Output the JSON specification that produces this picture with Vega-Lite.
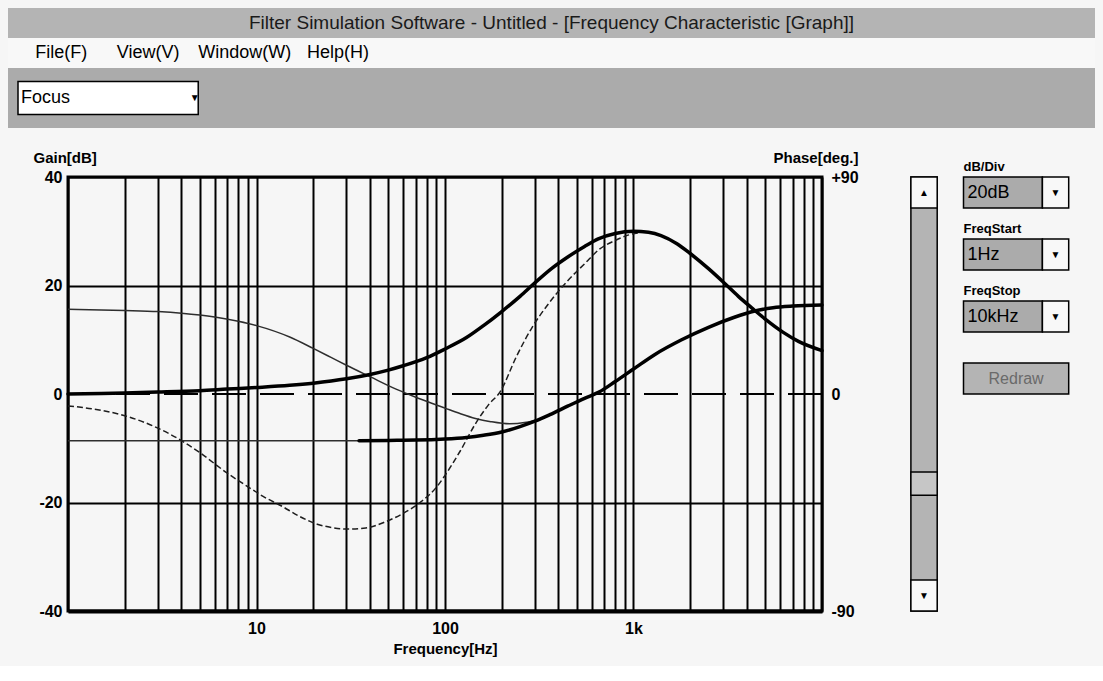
{
  "$schema": "https://vega.github.io/schema/vega-lite/v6.json",
  "background": "#f6f6f6",
  "padding": {"left": 8, "top": 8, "right": 8, "bottom": 8},
  "config": {
    "view": {"stroke": null},
    "font": "Liberation Sans, Arial, sans-serif",
    "axis": {
      "labelFont": "Liberation Sans, Arial, sans-serif",
      "titleFont": "Liberation Sans, Arial, sans-serif",
      "labelFontWeight": "bold",
      "titleFontWeight": "bold",
      "labelColor": "#000",
      "titleColor": "#000",
      "labelFontSize": 16,
      "titleFontSize": 15
    }
  },
  "datasets": {
    "curves": [
      {"s": "A", "f": 1, "g": 0}, {"s": "A", "f": 1.5, "g": 0.1}, {"s": "A", "f": 2, "g": 0.2}, {"s": "A", "f": 3, "g": 0.35},
      {"s": "A", "f": 5, "g": 0.6}, {"s": "A", "f": 7, "g": 0.9}, {"s": "A", "f": 10, "g": 1.2}, {"s": "A", "f": 15, "g": 1.6},
      {"s": "A", "f": 20, "g": 2.0}, {"s": "A", "f": 30, "g": 2.8}, {"s": "A", "f": 40, "g": 3.6}, {"s": "A", "f": 50, "g": 4.4},
      {"s": "A", "f": 60, "g": 5.2}, {"s": "A", "f": 80, "g": 6.7}, {"s": "A", "f": 100, "g": 8.3}, {"s": "A", "f": 130, "g": 10.4},
      {"s": "A", "f": 160, "g": 12.6}, {"s": "A", "f": 200, "g": 15.2}, {"s": "A", "f": 250, "g": 18.0}, {"s": "A", "f": 300, "g": 20.5},
      {"s": "A", "f": 370, "g": 23.2}, {"s": "A", "f": 450, "g": 25.3}, {"s": "A", "f": 550, "g": 27.2}, {"s": "A", "f": 650, "g": 28.6},
      {"s": "A", "f": 800, "g": 29.6}, {"s": "A", "f": 1000, "g": 30.0}, {"s": "A", "f": 1200, "g": 29.8}, {"s": "A", "f": 1400, "g": 29.2},
      {"s": "A", "f": 1700, "g": 27.7}, {"s": "A", "f": 2000, "g": 25.9}, {"s": "A", "f": 2500, "g": 23.1}, {"s": "A", "f": 3000, "g": 20.6},
      {"s": "A", "f": 3600, "g": 18.0}, {"s": "A", "f": 4300, "g": 15.7}, {"s": "A", "f": 5000, "g": 13.8}, {"s": "A", "f": 6200, "g": 11.4},
      {"s": "A", "f": 7500, "g": 9.7}, {"s": "A", "f": 10000, "g": 8.0},

      {"s": "B", "f": 1, "g": 15.6}, {"s": "B", "f": 2, "g": 15.4}, {"s": "B", "f": 3, "g": 15.2}, {"s": "B", "f": 4, "g": 14.9},
      {"s": "B", "f": 6, "g": 14.2}, {"s": "B", "f": 8, "g": 13.4}, {"s": "B", "f": 10, "g": 12.6}, {"s": "B", "f": 15, "g": 10.5},
      {"s": "B", "f": 20, "g": 8.4}, {"s": "B", "f": 25, "g": 6.7}, {"s": "B", "f": 30, "g": 5.3}, {"s": "B", "f": 40, "g": 3.2},
      {"s": "B", "f": 55, "g": 0.9}, {"s": "B", "f": 70, "g": -0.6}, {"s": "B", "f": 85, "g": -1.7}, {"s": "B", "f": 100, "g": -2.6},
      {"s": "B", "f": 120, "g": -3.6}, {"s": "B", "f": 145, "g": -4.5}, {"s": "B", "f": 175, "g": -5.1}, {"s": "B", "f": 220, "g": -5.5},
      {"s": "B", "f": 270, "g": -5.2}, {"s": "B", "f": 320, "g": -4.6}, {"s": "B", "f": 360, "g": -3.8},

      {"s": "C0", "f": 1, "g": -8.6}, {"s": "C0", "f": 35, "g": -8.6},

      {"s": "C", "f": 35, "g": -8.6}, {"s": "C", "f": 50, "g": -8.55}, {"s": "C", "f": 70, "g": -8.5}, {"s": "C", "f": 100, "g": -8.3},
      {"s": "C", "f": 130, "g": -8.0}, {"s": "C", "f": 160, "g": -7.6}, {"s": "C", "f": 200, "g": -7.0}, {"s": "C", "f": 250, "g": -6.0},
      {"s": "C", "f": 300, "g": -5.0}, {"s": "C", "f": 360, "g": -3.8}, {"s": "C", "f": 450, "g": -2.2}, {"s": "C", "f": 550, "g": -0.8},
      {"s": "C", "f": 660, "g": 0.4}, {"s": "C", "f": 800, "g": 2.3}, {"s": "C", "f": 1000, "g": 4.6}, {"s": "C", "f": 1300, "g": 7.3},
      {"s": "C", "f": 1800, "g": 10.0}, {"s": "C", "f": 2500, "g": 12.3}, {"s": "C", "f": 3400, "g": 14.1}, {"s": "C", "f": 4400, "g": 15.3},
      {"s": "C", "f": 5500, "g": 15.9}, {"s": "C", "f": 7000, "g": 16.2}, {"s": "C", "f": 10000, "g": 16.4},

      {"s": "D", "f": 1, "g": -2.2}, {"s": "D", "f": 1.5, "g": -3.0}, {"s": "D", "f": 2, "g": -4.0}, {"s": "D", "f": 3, "g": -6.3},
      {"s": "D", "f": 4, "g": -8.6}, {"s": "D", "f": 5, "g": -10.8}, {"s": "D", "f": 7, "g": -14.6}, {"s": "D", "f": 9, "g": -17.1},
      {"s": "D", "f": 11, "g": -19.0}, {"s": "D", "f": 13.5, "g": -20.6}, {"s": "D", "f": 17, "g": -22.6}, {"s": "D", "f": 21, "g": -24.0},
      {"s": "D", "f": 25, "g": -24.6}, {"s": "D", "f": 30, "g": -24.9}, {"s": "D", "f": 38, "g": -24.7}, {"s": "D", "f": 48, "g": -23.6},
      {"s": "D", "f": 60, "g": -22.0}, {"s": "D", "f": 75, "g": -19.8}, {"s": "D", "f": 90, "g": -17.2}, {"s": "D", "f": 100, "g": -15.0},
      {"s": "D", "f": 120, "g": -10.6}, {"s": "D", "f": 145, "g": -5.5}, {"s": "D", "f": 170, "g": -2.0}, {"s": "D", "f": 196, "g": 0.4},
      {"s": "D", "f": 240, "g": 7.0}, {"s": "D", "f": 290, "g": 12.3}, {"s": "D", "f": 350, "g": 16.4}, {"s": "D", "f": 440, "g": 20.6},
      {"s": "D", "f": 550, "g": 24.0}, {"s": "D", "f": 660, "g": 26.7}, {"s": "D", "f": 800, "g": 28.3}, {"s": "D", "f": 920, "g": 29.2},
      {"s": "D", "f": 1100, "g": 29.8}
    ],
    "side": [
      {"kind": "rect", "part": "track", "col": "c3", "col2": "c3", "row": "s0", "row2": "s13"},
      {"kind": "rect", "part": "btn", "col": "c3", "col2": "c3", "row": "s0", "row2": "s0"},
      {"kind": "rect", "part": "btn", "col": "c3", "col2": "c3", "row": "s13", "row2": "s13"},
      {"kind": "thumb", "part": "thumb", "col": "c3", "col2": "c3", "row": "s9", "row2": "s9"},
      {"kind": "rect", "part": "box", "col": "c5", "col2": "c7", "row": "s0", "row2": "s0"},
      {"kind": "rect", "part": "btn", "col": "c8", "col2": "c8", "row": "s0", "row2": "s0"},
      {"kind": "rect", "part": "box", "col": "c5", "col2": "c7", "row": "s2", "row2": "s2"},
      {"kind": "rect", "part": "btn", "col": "c8", "col2": "c8", "row": "s2", "row2": "s2"},
      {"kind": "rect", "part": "box", "col": "c5", "col2": "c7", "row": "s4", "row2": "s4"},
      {"kind": "rect", "part": "btn", "col": "c8", "col2": "c8", "row": "s4", "row2": "s4"},
      {"kind": "rect", "part": "button", "col": "c5", "col2": "c8", "row": "s6", "row2": "s6"},
      {"kind": "value", "text": "20dB", "col": "c5", "row": "s0"},
      {"kind": "value", "text": "1Hz", "col": "c5", "row": "s2"},
      {"kind": "value", "text": "10kHz", "col": "c5", "row": "s4"},
      {"kind": "label", "text": "dB/Div", "col": "c5", "row": "s0"},
      {"kind": "label", "text": "FreqStart", "col": "c5", "row": "s2"},
      {"kind": "label", "text": "FreqStop", "col": "c5", "row": "s4"},
      {"kind": "glyph", "text": "▲", "col": "c3", "row": "s0"},
      {"kind": "glyph", "text": "▼", "col": "c3", "row": "s13"},
      {"kind": "glyph", "text": "▼", "col": "c8", "row": "s0"},
      {"kind": "glyph", "text": "▼", "col": "c8", "row": "s2"},
      {"kind": "glyph", "text": "▼", "col": "c8", "row": "s4"},
      {"kind": "redraw", "text": "Redraw", "col": "c7", "row": "s6"}
    ],
    "chrome": [
      {"kind": "bar", "band": "title"},
      {"kind": "bar", "band": "menu"},
      {"kind": "bar", "band": "tool1"},
      {"kind": "bar", "band": "tool2"},
      {"kind": "titletext", "band": "title", "text": "Filter Simulation Software - Untitled - [Frequency Characteristic [Graph]]"},
      {"kind": "menutext", "band": "menu", "col": "k1", "text": "File(F)"},
      {"kind": "menutext", "band": "menu", "col": "k4", "text": "View(V)"},
      {"kind": "menutext", "band": "menu", "col": "k7", "text": "Window(W)"},
      {"kind": "menutext", "band": "menu", "col": "k11", "text": "Help(H)"},
      {"kind": "combo", "band": "tool1", "col": "k0", "col2": "k6"},
      {"kind": "combotext", "band": "tool1", "col": "k0", "text": "Focus"},
      {"kind": "comboglyph", "band": "tool1", "col": "k6", "text": "▼"}
    ]
  },
  "spacing": 49,
  "bounds": "flush",
  "vconcat": [
    {
      "width": 1087,
      "height": 120,
      "data": {"name": "chrome"},
      "layer": [
        {
          "transform": [{"filter": "datum.kind === 'bar'"}],
          "mark": {"type": "rect"},
          "encoding": {
            "y": {"field": "band", "type": "nominal", "scale": {"domain": ["title", "menu", "tool1", "tool2"], "paddingInner": 0, "paddingOuter": 0}, "axis": null},
            "x": {"value": 0},
            "x2": {"value": "width"},
            "fill": {"field": "band", "type": "nominal", "scale": {"domain": ["title", "menu", "tool1", "tool2"], "range": ["#b4b4b4", "#f8f8f8", "#ababab", "#ababab"]}, "legend": null}
          }
        },
        {
          "transform": [{"filter": "datum.kind === 'titletext'"}],
          "mark": {"type": "text", "fontSize": 19, "color": "#1a1a1a", "baseline": "middle"},
          "encoding": {
            "y": {"field": "band", "type": "nominal", "bandPosition": 0.5},
            "text": {"field": "text"}
          }
        },
        {
          "transform": [{"filter": "datum.kind === 'menutext'"}],
          "mark": {"type": "text", "fontSize": 18, "align": "left", "baseline": "middle", "color": "#000"},
          "encoding": {
            "x": {"field": "col", "type": "nominal", "bandPosition": 0, "scale": {"domain": ["k0", "k1", "k2", "k3", "k4", "k5", "k6", "k7", "k8", "k9", "k10", "k11", "k12", "k13", "k14", "k15", "k16", "k17", "k18", "k19", "k20", "k21", "k22", "k23", "k24", "k25", "k26", "k27", "k28", "k29", "k30", "k31", "k32", "k33", "k34", "k35", "k36", "k37", "k38", "k39"], "paddingInner": 0, "paddingOuter": 0}, "axis": null},
            "y": {"field": "band", "type": "nominal", "bandPosition": 0.5},
            "text": {"field": "text"}
          }
        },
        {
          "transform": [{"filter": "datum.kind === 'combo'"}],
          "mark": {"type": "rect", "fill": "#ffffff", "stroke": "#000", "strokeWidth": 1.5, "xOffset": 10},
          "encoding": {
            "x": {"field": "col", "type": "nominal", "bandPosition": 0},
            "x2": {"field": "col2", "bandPosition": 1},
            "y": {"field": "band", "type": "nominal", "bandPosition": 0.45},
            "y2": {"field": "band", "bandPosition": 1.55}
          }
        },
        {
          "transform": [{"filter": "datum.kind === 'combotext'"}],
          "mark": {"type": "text", "fontSize": 18, "align": "left", "baseline": "middle", "color": "#000", "dx": 13},
          "encoding": {
            "x": {"field": "col", "type": "nominal", "bandPosition": 0},
            "y": {"field": "band", "type": "nominal", "bandPosition": 1},
            "text": {"field": "text"}
          }
        },
        {
          "transform": [{"filter": "datum.kind === 'comboglyph'"}],
          "mark": {"type": "text", "fontSize": 10, "align": "center", "baseline": "middle", "color": "#000", "dx": 10},
          "encoding": {
            "x": {"field": "col", "type": "nominal", "bandPosition": 0.5},
            "y": {"field": "band", "type": "nominal", "bandPosition": 1},
            "text": {"field": "text"}
          }
        }
      ]
    },
    {
      "spacing": 10,
      "bounds": "flush",
      "hconcat": [
        {
          "width": 50,
          "height": 434,
          "data": {"values": [{"t": ""}]},
          "mark": {"type": "text"},
          "encoding": {"text": {"field": "t"}}
        },
        {
          "width": 754,
          "height": 434,
          "view": {"stroke": "black", "strokeWidth": 3},
          "layer": [
            {
              "data": {"values": [{"phase": 0}]},
              "mark": {"type": "rule", "strokeDash": [34, 14], "strokeWidth": 2, "color": "#000"},
              "encoding": {
                "y": {
                  "field": "phase", "type": "quantitative",
                  "scale": {"domain": [-90, 90], "nice": false},
                  "axis": {
                    "orient": "right", "values": [-90, 0, 90],
                    "labelExpr": "datum.value > 0 ? '+' + datum.label : replace(datum.label, '−', '-')",
                    "grid": false, "ticks": false, "domain": false, "labelPadding": 9,
                    "title": "Phase[deg.]", "titleAngle": 0, "titleAlign": "left", "titleBaseline": "middle",
                    "titleX": -49, "titleY": -20
                  }
                }
              }
            },
            {
              "data": {"name": "curves"},
              "encoding": {
                "x": {
                  "field": "f", "type": "quantitative",
                  "scale": {"type": "log", "domain": [1, 10000], "nice": false},
                  "axis": {
                    "values": [1, 2, 3, 4, 5, 6, 7, 8, 9, 10, 20, 30, 40, 50, 60, 70, 80, 90, 100, 200, 300, 400, 500, 600, 700, 800, 900, 1000, 2000, 3000, 4000, 5000, 6000, 7000, 8000, 9000, 10000],
                    "labelExpr": "datum.value == 10 ? '10' : datum.value == 100 ? '100' : datum.value == 1000 ? '1k' : ''",
                    "grid": true, "gridColor": "#000", "gridWidth": 2, "gridOpacity": 1,
                    "ticks": false, "domain": true, "domainColor": "#000", "domainWidth": 4,
                    "labelPadding": 9, "labelFlush": false, "labelOverlap": false,
                    "title": "Frequency[Hz]", "titlePadding": 5
                  }
                },
                "y": {
                  "field": "g", "type": "quantitative",
                  "scale": {"domain": [-40, 40], "nice": false},
                  "axis": {
                    "orient": "left", "values": [-40, -20, 0, 20, 40],
                    "labelExpr": "replace(datum.label, '−', '-')",
                    "grid": true, "gridColor": "#000", "gridWidth": 2,
                    "gridOpacity": {"condition": {"test": "datum.value === 0", "value": 0}, "value": 1},
                    "ticks": false, "domain": false, "labelPadding": 6,
                    "title": "Gain[dB]", "titleAngle": 0, "titleAlign": "left", "titleBaseline": "middle",
                    "titleX": -35, "titleY": -20
                  }
                },
                "detail": {"field": "s", "type": "nominal"}
              },
              "layer": [
                {
                  "transform": [{"filter": "datum.s === 'B' || datum.s === 'C0'"}],
                  "mark": {"type": "line", "interpolate": "monotone", "strokeWidth": 1.5, "color": "#2e2e2e"}
                },
                {
                  "transform": [{"filter": "datum.s === 'D'"}],
                  "mark": {"type": "line", "interpolate": "monotone", "strokeWidth": 1.5, "color": "#1e1e1e", "strokeDash": [6, 3]}
                },
                {
                  "transform": [{"filter": "datum.s === 'A' || datum.s === 'C'"}],
                  "mark": {"type": "line", "interpolate": "monotone", "strokeWidth": 3.5, "color": "#000", "strokeCap": "round", "strokeJoin": "round"}
                }
              ]
            }
          ],
          "resolve": {"scale": {"y": "independent"}}
        },
        {
          "width": 263,
          "height": 434,
          "data": {"name": "side"},
          "encoding": {
            "x": {"field": "col", "type": "nominal", "scale": {"domain": ["c0", "c1", "c2", "c3", "c4", "c5", "c6", "c7", "c8", "c9"], "paddingInner": 0, "paddingOuter": 0}, "axis": null},
            "y": {"field": "row", "type": "nominal", "scale": {"domain": ["s0", "s1", "s2", "s3", "s4", "s5", "s6", "s7", "s8", "s9", "s10", "s11", "s12", "s13"], "paddingInner": 0, "paddingOuter": 0}, "axis": null}
          },
          "layer": [
            {
              "transform": [{"filter": "datum.kind === 'rect'"}],
              "mark": {"type": "rect", "stroke": "#000", "strokeWidth": 1.5},
              "encoding": {
                "x": {"field": "col", "type": "nominal", "bandPosition": 0},
                "x2": {"field": "col2", "bandPosition": 1},
                "y": {"field": "row", "type": "nominal", "bandPosition": 0},
                "y2": {"field": "row2", "bandPosition": 1},
                "fill": {"field": "part", "type": "nominal", "scale": {"domain": ["track", "btn", "thumb", "box", "button"], "range": ["#b6b6b6", "#a0a0a0", "#c6c6c6", "#ffffff", "#b0b0b0"]}, "legend": null}
              }
            },
            {
              "transform": [{"filter": "datum.kind === 'thumb'"}],
              "mark": {"type": "rect", "stroke": "#000", "strokeWidth": 1.5, "fill": "#c6c6c6", "yOffset": 16, "y2Offset": 16},
              "encoding": {
                "x": {"field": "col", "type": "nominal", "bandPosition": 0},
                "x2": {"field": "col2", "bandPosition": 1},
                "y": {"field": "row", "type": "nominal", "bandPosition": 0},
                "y2": {"field": "row2", "bandPosition": 0.75}
              }
            },
            {
              "transform": [{"filter": "datum.kind === 'value'"}],
              "mark": {"type": "text", "align": "left", "baseline": "middle", "dx": 4, "fontSize": 18, "color": "#000"},
              "encoding": {
                "x": {"field": "col", "type": "nominal", "bandPosition": 0},
                "y": {"field": "row", "type": "nominal", "bandPosition": 0.5},
                "text": {"field": "text"}
              }
            },
            {
              "transform": [{"filter": "datum.kind === 'label'"}],
              "mark": {"type": "text", "align": "left", "baseline": "bottom", "dy": -3, "fontSize": 13, "fontWeight": "bold", "color": "#000"},
              "encoding": {
                "x": {"field": "col", "type": "nominal", "bandPosition": 0},
                "y": {"field": "row", "type": "nominal", "bandPosition": 0},
                "text": {"field": "text"}
              }
            },
            {
              "transform": [{"filter": "datum.kind === 'glyph'"}],
              "mark": {"type": "text", "align": "center", "baseline": "middle", "fontSize": 10, "color": "#000"},
              "encoding": {
                "x": {"field": "col", "type": "nominal", "bandPosition": 0.5},
                "y": {"field": "row", "type": "nominal", "bandPosition": 0.5},
                "text": {"field": "text"}
              }
            },
            {
              "transform": [{"filter": "datum.kind === 'redraw'"}],
              "mark": {"type": "text", "align": "center", "baseline": "middle", "fontSize": 16, "color": "#6a6a6a"},
              "encoding": {
                "x": {"field": "col", "type": "nominal", "bandPosition": 0},
                "y": {"field": "row", "type": "nominal", "bandPosition": 0.5},
                "text": {"field": "text"}
              }
            }
          ]
        }
      ]
    }
  ]
}
